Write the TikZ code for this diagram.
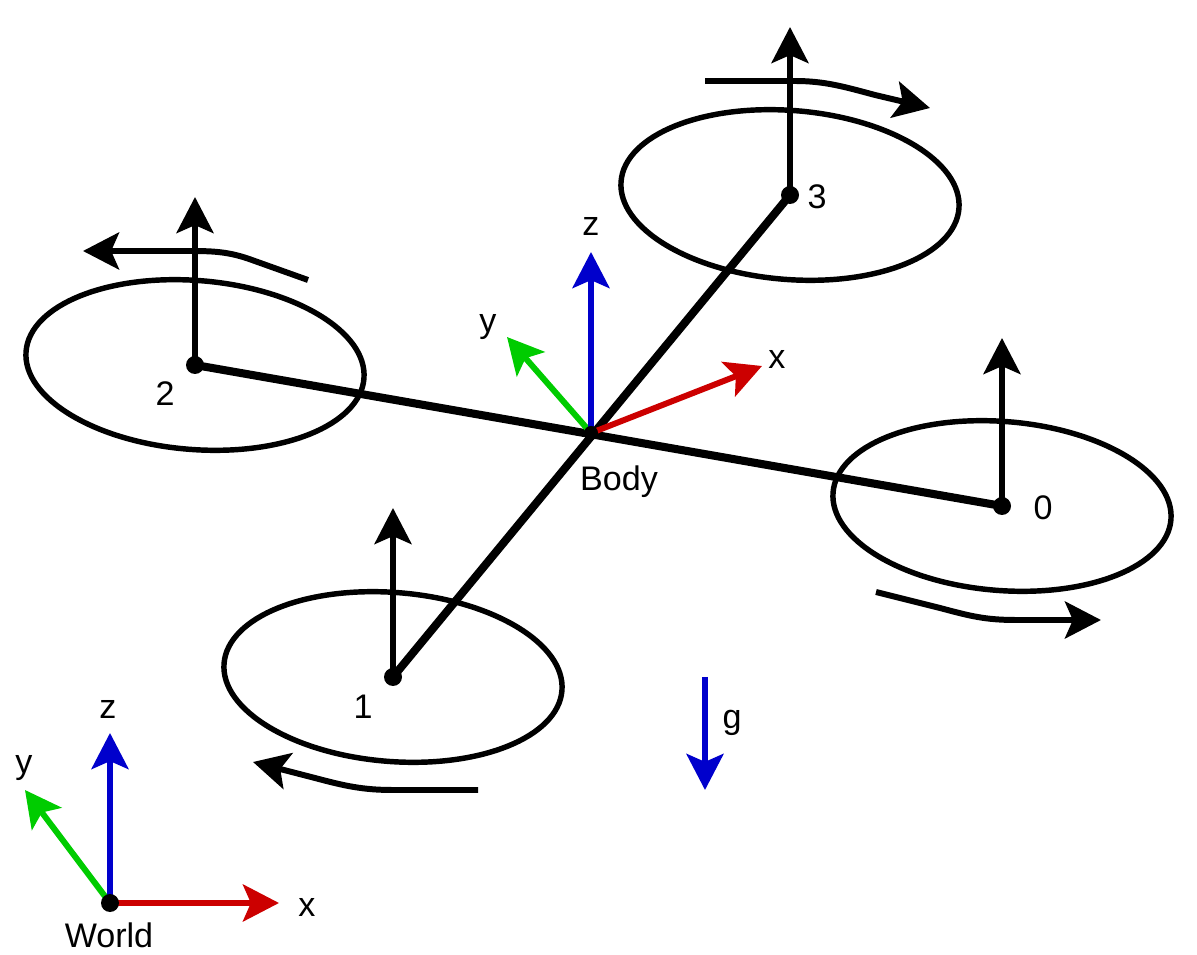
\documentclass[tikz,border=0pt]{standalone}
\usepackage{fontspec}
\setmainfont{Liberation Sans}
\usepackage{xcolor}
\usetikzlibrary{arrows.meta, positioning}
\definecolor{axisred}{HTML}{CC0000}
\definecolor{axisgreen}{HTML}{00CC00}
\definecolor{axisblue}{HTML}{0000CC}
\tikzset{
    rotor/.style={line width=3.1pt},
    arm/.style={line width=4.6pt},
    vec/.style={line width=3.4pt, -{Stealth[length=20.5pt, width=21pt, inset=4.5pt]}},
    lbl/.style={inner sep=0pt, font=\fontsize{19.4}{23}\selectfont}
}

\begin{document}
\begin{tikzpicture}[x=0.02cm, y=-0.02cm]
        \useasboundingbox (0,0) rectangle (1197,955);
        \coordinate (body) at (591,433);
        \coordinate (m0) at (1002,506);
        \coordinate (m1) at (393,677);
        \coordinate (m2) at (195,365);
        \coordinate (m3) at (790,195);
        \coordinate (world) at (110,903);
        % rotors
        \draw[rotor] (m0) ellipse [x radius=169.5, y radius=84.5, rotate=-4.6];
        \draw[rotor] (m1) ellipse [x radius=169.5, y radius=84.5, rotate=-4.6];
        \draw[rotor] (m2) ellipse [x radius=169.5, y radius=84.5, rotate=-4.6];
        \draw[rotor] (m3) ellipse [x radius=169.5, y radius=84.5, rotate=-4.6];
        % thrust
        \coordinate (t0) at (1002,338);
        \coordinate (t1) at (393,508);
        \coordinate (t2) at (195,197);
        \coordinate (t3) at (790,27);
        \draw[vec] (m0) -- (t0);
        \draw[vec] (m1) -- (t1);
        \draw[vec] (m2) -- (t2);
        \draw[vec] (m3) -- (t3);
        % spin
        \coordinate (s0a) at (876,592);
        \coordinate (s0b) at (1101,620);
        \coordinate (s1a) at (478,790);
        \coordinate (s1b) at (253,762);
        \coordinate (s2a) at (308,280);
        \coordinate (s2b) at (83,251);
        \coordinate (s3a) at (705,81);
        \coordinate (s3b) at (930,108);
        \draw[vec] (s0a) -- (940,608) .. controls (970,616) and (985,620) .. (1016,620) -- (s0b);
        \draw[vec] (s1a) -- (393,790) .. controls (363,790) and (345,786) .. (315,778) -- (s1b);
        \draw[vec] (s2a) -- (252,260) .. controls (230,252) and (215,251) .. (190,251) -- (s2b);
        \draw[vec] (s3a) -- (795,81) .. controls (825,81) and (845,87) .. (875,95) -- (s3b);
        % arms
        \draw[arm] (m2) -- (m0);
        \draw[arm] (m1) -- (m3);
        \fill (m0) circle (9);
        \fill (m1) circle (9);
        \fill (m2) circle (9);
        \fill (m3) circle (9);
        % body frame
        \coordinate (bx) at (762,366);
        \coordinate (by) at (507,337);
        \coordinate (bz) at (591,252);
        \draw[vec, axisred] (body) -- (bx);
        \draw[vec, axisgreen] (body) -- (by);
        \draw[vec, axisblue] (body) -- (bz);
        \fill (body) circle (7);
        % world frame
        \coordinate (wx) at (279,903);
        \coordinate (wy) at (25,790);
        \coordinate (wz) at (110,733);
        \draw[vec, axisgreen] (world) -- (wy);
        \draw[vec, axisblue] (world) -- (wz);
        \draw[vec, axisred] (world) -- (wx);
        \fill (world) circle (9);
        % gravity
        \coordinate (ga) at (705,677);
        \coordinate (gb) at (705,790);
        \draw[vec, axisblue] (ga) -- (gb);
        % labels
        \node[lbl] (lz) at (591,227) {z};
        \node[lbl] (ly) at (488,327) {y};
        \node[lbl] (lx) at (777,360) {x};
        \node[lbl] (lbody) at (619,482) {Body};
        \node[lbl] (l0) at (1043,508) {0};
        \node[lbl] (l1) at (363,707) {1};
        \node[lbl] (l2) at (165,394) {2};
        \node[lbl] (l3) at (817,197) {3};
        \node[lbl] (lg) at (732,723) {g};
        \node[lbl] (lwz) at (108,709) {z};
        \node[lbl] (lwy) at (24,768) {y};
        \node[lbl] (lwx) at (307,907) {x};
        \node[lbl] (lworld) at (109,935) {World};
    \end{tikzpicture}
\end{document}
